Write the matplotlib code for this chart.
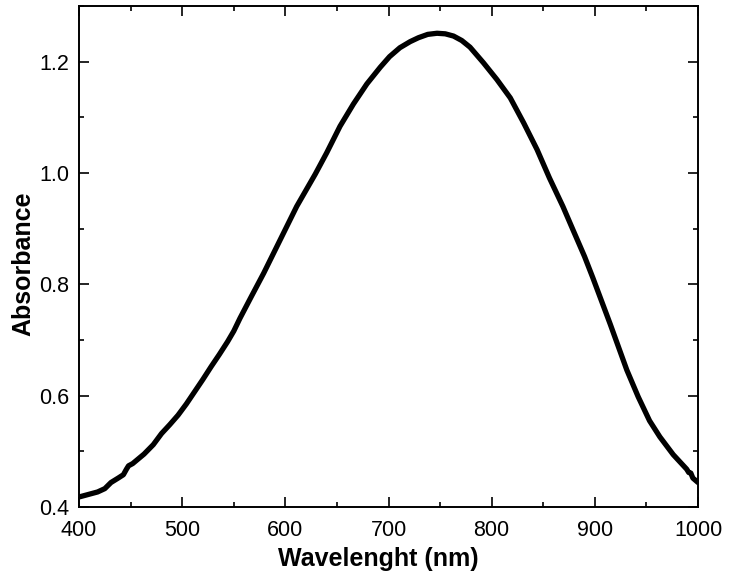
import matplotlib
matplotlib.use("Agg")
import matplotlib.pyplot as plt
from matplotlib.ticker import MultipleLocator

# values
wavelength = [400, 410, 418, 425, 431, 438, 443, 446, 448, 452, 463, 472, 480,
              488, 496, 504, 512, 520, 528, 536, 544, 550, 556, 567, 579, 595,
              611, 629, 640, 653, 666, 679, 692, 701, 711, 721, 729, 738, 747,
              755, 763, 771, 779, 792, 805, 818, 831, 844, 856, 869, 879, 890,
              898, 915, 931, 942, 953, 963, 976, 984, 989, 991, 993, 995, 1000]
absorbance = [0.418, 0.423, 0.427, 0.433, 0.444, 0.452, 0.458, 0.468, 0.474,
              0.478, 0.495, 0.512, 0.532, 0.548, 0.565, 0.585, 0.607, 0.629,
              0.652, 0.674, 0.697, 0.716, 0.739, 0.778, 0.820, 0.880, 0.940,
              0.998, 1.036, 1.084, 1.124, 1.160, 1.190, 1.209, 1.225, 1.236,
              1.243, 1.249, 1.251, 1.250, 1.246, 1.238, 1.226, 1.198, 1.168,
              1.135, 1.090, 1.042, 0.991, 0.940, 0.897, 0.850, 0.812, 0.728,
              0.646, 0.598, 0.555, 0.526, 0.494, 0.478, 0.468, 0.462, 0.461,
              0.452, 0.444]

plt.rcParams["font.family"] = ["Liberation Sans", "DejaVu Sans"]

fig = plt.figure(figsize=(7.29, 5.76), dpi=100)
ax = fig.add_axes([0.1084, 0.1198, 0.8491, 0.8698])

ax.plot(wavelength, absorbance, color="black", linewidth=3.8,
        solid_capstyle="round", solid_joinstyle="round")

ax.set_xlim(400, 1000)
ax.set_ylim(0.4, 1.3)
ax.xaxis.set_major_locator(MultipleLocator(100))
ax.xaxis.set_minor_locator(MultipleLocator(50))
ax.yaxis.set_major_locator(MultipleLocator(0.2))
ax.yaxis.set_minor_locator(MultipleLocator(0.1))

ax.tick_params(which="both", direction="in", top=True, right=True,
               width=1.2, labelsize=15.5)
ax.tick_params(which="major", length=7)
ax.tick_params(axis="x", which="major", pad=9.5)
ax.tick_params(axis="y", which="major", pad=7)
ax.tick_params(which="minor", length=3.5)
for s in ax.spines.values():
    s.set_linewidth(1.4)

ax.set_xlabel("Wavelenght (nm)", fontsize=18, fontweight="bold", labelpad=4)
ax.set_ylabel("Absorbance", fontsize=18, fontweight="bold", labelpad=3)
# labels sit a little off-centre in the original
ax.xaxis.label.set_x(0.483)
ax.yaxis.label.set_y(0.485)

fig.savefig("out.png", dpi=100)
